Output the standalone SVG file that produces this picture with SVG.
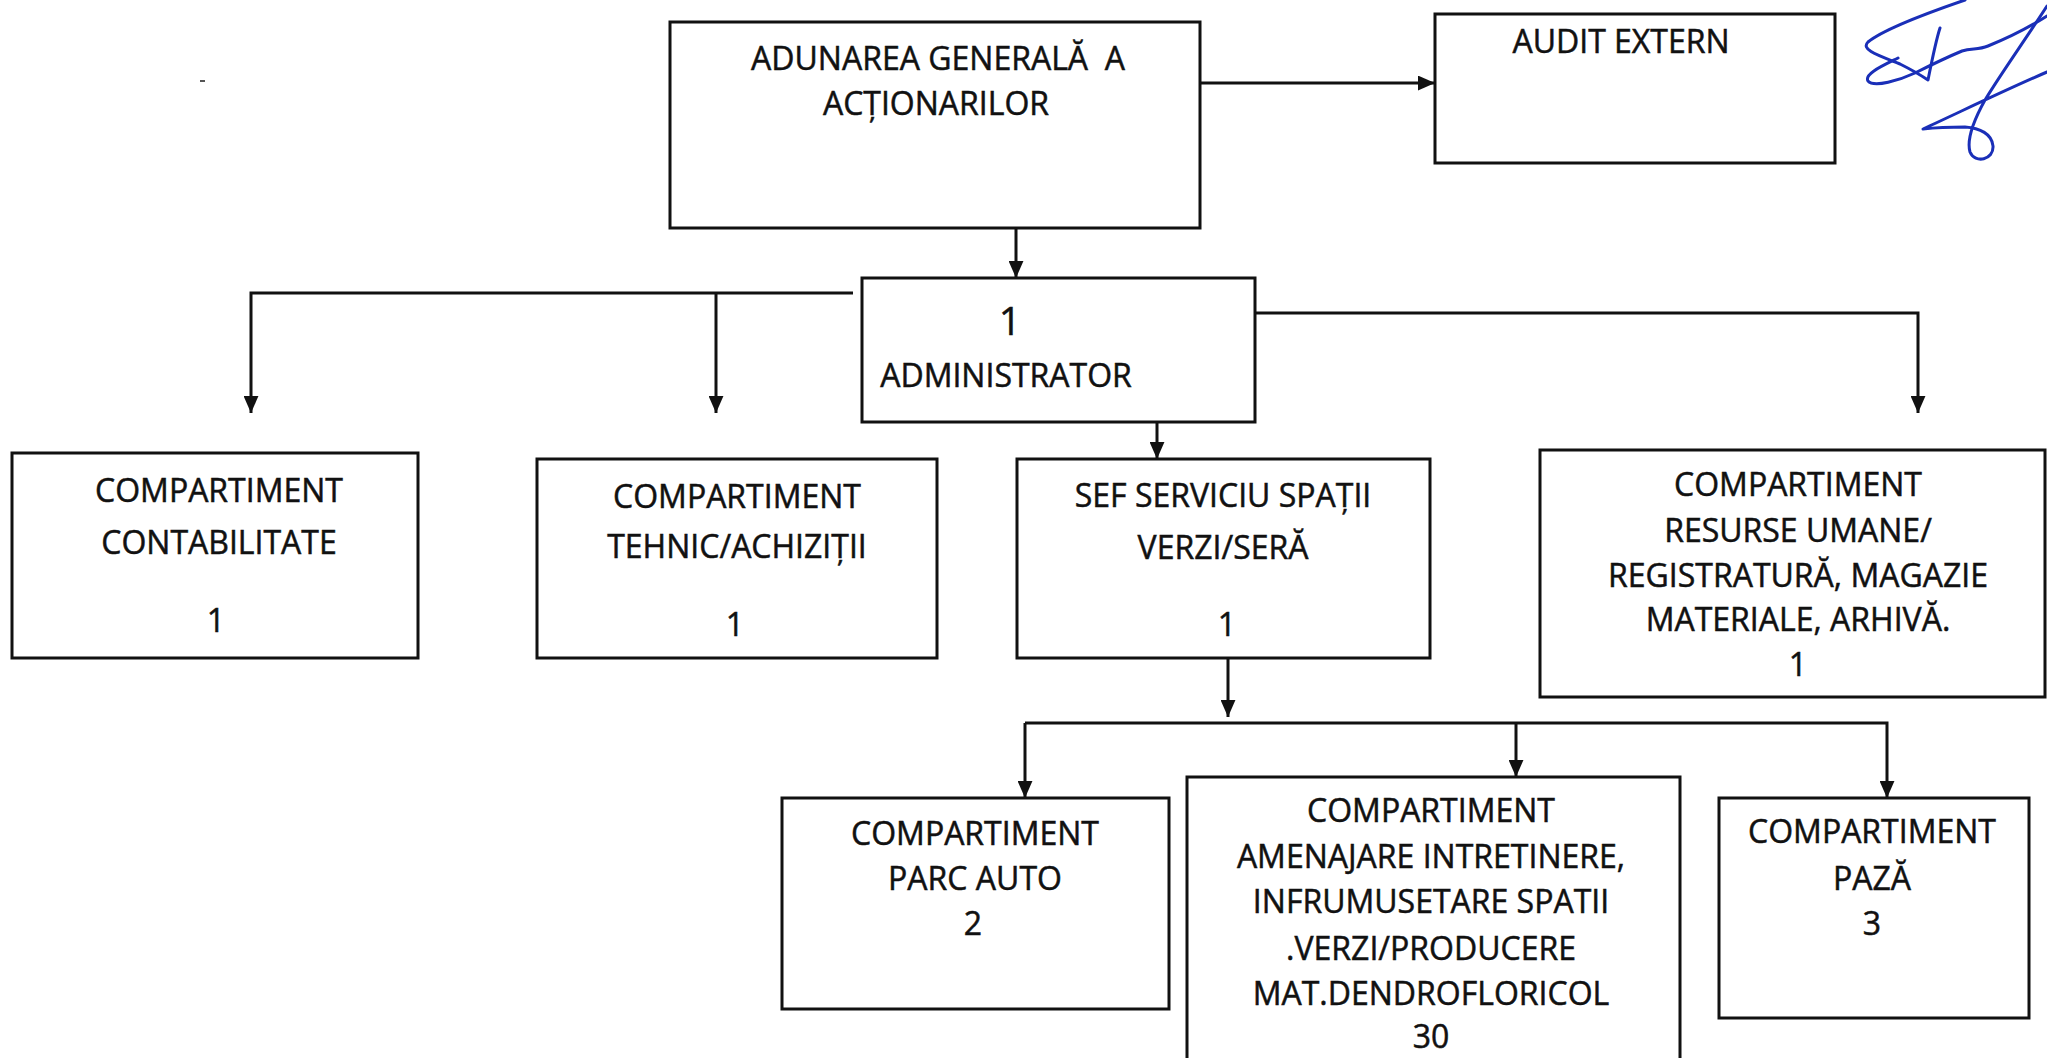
<svg xmlns="http://www.w3.org/2000/svg" width="2047" height="1058" viewBox="0 0 2047 1058">
<style>
.box{fill:#fff;stroke:#111;stroke-width:3}
.t{font-family:"Open Sans","Noto Sans","Liberation Sans",sans-serif;font-size:32px;fill:#111;stroke:#111;stroke-width:0.5;text-anchor:middle}
.big{font-size:39px}
.c{fill:none;stroke:#111;stroke-width:3}
.sig{fill:none;stroke:#1a2fb8;stroke-width:3;stroke-linecap:round;stroke-linejoin:round}
</style>
<defs>
<marker id="ah" viewBox="0 0 16 14" refX="16" refY="7" markerWidth="17" markerHeight="15" orient="auto" markerUnits="userSpaceOnUse">
<path d="M0,0 L16,7 L0,14 Z" fill="#111"/>
</marker>
</defs>
<rect width="2047" height="1058" fill="#fff"/>

<g id="connectors">
<path class="c" d="M1200,83 H1435" marker-end="url(#ah)"/>
<path class="c" d="M1016,228 V278" marker-end="url(#ah)"/>
<path class="c" d="M853,293 H251 V413" marker-end="url(#ah)"/>
<path class="c" d="M716,293 V413" marker-end="url(#ah)"/>
<path class="c" d="M1255,313 H1918 V413" marker-end="url(#ah)"/>
<path class="c" d="M1157,422 V459" marker-end="url(#ah)"/>
<path class="c" d="M1228,658 V717" marker-end="url(#ah)"/>
<path class="c" d="M1025,723 V798" marker-end="url(#ah)"/>
<path class="c" d="M1025,723 H1887 V798" marker-end="url(#ah)"/>
<path class="c" d="M1516,723 V777" marker-end="url(#ah)"/>
</g>

<g id="adunarea">
<rect class="box" x="670" y="22" width="530" height="206"/>
<text class="t" x="938" y="70" xml:space="preserve">ADUNAREA GENERALĂ  A</text>
<text class="t" x="936" y="115">ACȚIONARILOR</text>
</g>

<g id="audit">
<rect class="box" x="1435" y="14" width="400" height="149"/>
<text class="t" x="1621" y="53">AUDIT EXTERN</text>
</g>

<g id="administrator">
<rect class="box" x="862" y="278" width="393" height="144"/>
<text class="t big" x="1010" y="335">1</text>
<text class="t" x="1006" y="387">ADMINISTRATOR</text>
</g>

<g id="contabilitate">
<rect class="box" x="12" y="453" width="406" height="205"/>
<text class="t" x="219" y="502">COMPARTIMENT</text>
<text class="t" x="219" y="554">CONTABILITATE</text>
<text class="t" x="216" y="632">1</text>
</g>

<g id="tehnic">
<rect class="box" x="537" y="459" width="400" height="199"/>
<text class="t" x="737" y="508">COMPARTIMENT</text>
<text class="t" x="737" y="558">TEHNIC/ACHIZIȚII</text>
<text class="t" x="735" y="636">1</text>
</g>

<g id="sef-serviciu">
<rect class="box" x="1017" y="459" width="413" height="199"/>
<text class="t" x="1223" y="507">SEF SERVICIU SPAȚII</text>
<text class="t" x="1223" y="559">VERZI/SERĂ</text>
<text class="t" x="1227" y="636">1</text>
</g>

<g id="resurse-umane">
<rect class="box" x="1540" y="450" width="505" height="247"/>
<text class="t" x="1798" y="496">COMPARTIMENT</text>
<text class="t" x="1798" y="542">RESURSE UMANE/</text>
<text class="t" x="1798" y="587">REGISTRATURĂ, MAGAZIE</text>
<text class="t" x="1798" y="631">MATERIALE, ARHIVĂ.</text>
<text class="t" x="1798" y="676">1</text>
</g>

<g id="parc-auto">
<rect class="box" x="782" y="798" width="387" height="211"/>
<text class="t" x="975" y="845">COMPARTIMENT</text>
<text class="t" x="975" y="890">PARC AUTO</text>
<text class="t" x="973" y="935">2</text>
</g>

<g id="amenajare">
<rect class="box" x="1187" y="777" width="493" height="300"/>
<text class="t" x="1431" y="822">COMPARTIMENT</text>
<text class="t" x="1431" y="868">AMENAJARE INTRETINERE,</text>
<text class="t" x="1431" y="913">INFRUMUSETARE SPATII</text>
<text class="t" x="1431" y="960">.VERZI/PRODUCERE</text>
<text class="t" x="1431" y="1005">MAT.DENDROFLORICOL</text>
<text class="t" x="1431" y="1048">30</text>
</g>

<g id="paza">
<rect class="box" x="1719" y="798" width="310" height="220"/>
<text class="t" x="1872" y="843">COMPARTIMENT</text>
<text class="t" x="1872" y="890">PAZĂ</text>
<text class="t" x="1872" y="935">3</text>
</g>

<g id="signature">
<path class="sig" d="M1965,0 C1930,12 1885,28 1868,42 C1860,50 1880,56 1900,64 C1912,70 1922,76 1928,80 C1932,60 1936,40 1940,28"/>
<path class="sig" d="M1898,58 C1882,66 1864,74 1868,81 C1874,88 1900,80 1915,73 C1935,63 1950,56 1962,51 C1972,48 1978,50 1988,46 C2008,38 2028,28 2047,16"/>
<path class="sig" d="M2047,6 C2025,40 2000,75 1985,100 C1975,118 1966,138 1970,152 C1975,164 1994,160 1993,146 C1992,134 1980,128 1965,127 C1950,127 1932,128 1923,129 C1960,112 2005,90 2047,72"/>
</g>
<path d="M200,81 H205" stroke="#555" stroke-width="2"/>
</svg>
